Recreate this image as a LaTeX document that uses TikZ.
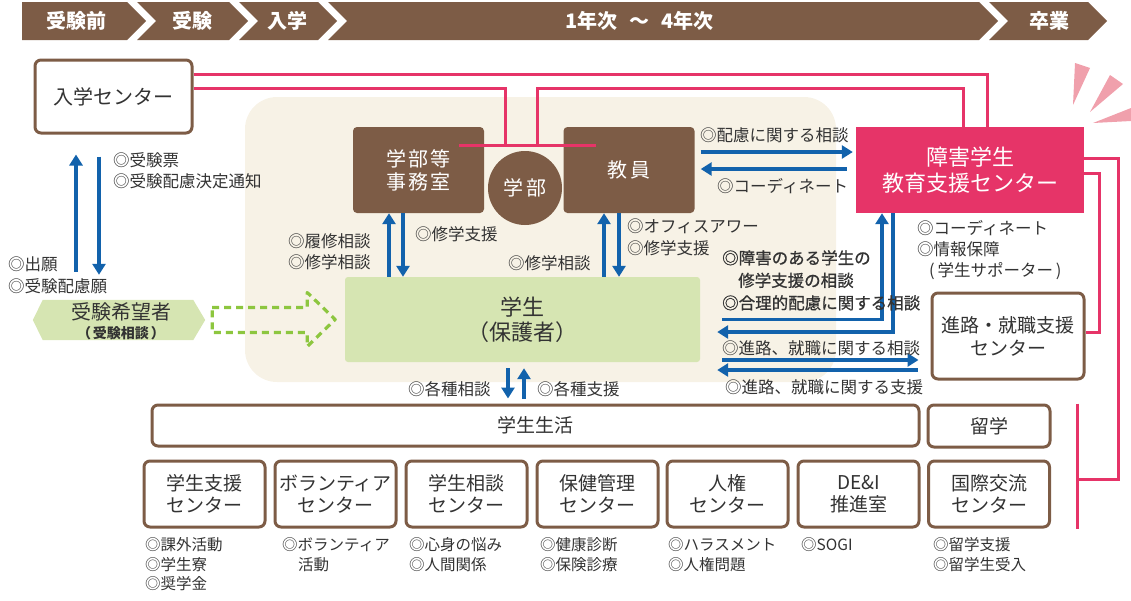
\documentclass[tikz,border=0pt]{standalone}
\usepackage{fontspec}
\setmainfont{Noto Sans CJK JP}
\newfontfamily\widefont[LetterSpace=12]{Noto Sans CJK JP}
\newfontfamily\heavyfont[FakeBold=0.8]{Noto Sans CJK JP}
\usetikzlibrary{shapes, arrows.meta, positioning, calc}

\definecolor{boxbrown}{RGB}{125, 92, 70}
\definecolor{linepink}{RGB}{230, 52, 104}
\definecolor{raypink}{RGB}{240, 160, 172}
\definecolor{arrowblue}{RGB}{18, 98, 172}
\definecolor{campusbeige}{RGB}{247, 242, 230}
\definecolor{palegreen}{RGB}{214, 229, 178}
\definecolor{dashgreen}{RGB}{141, 198, 63}
\definecolor{inkgray}{RGB}{51, 51, 51}

\tikzset{
  whitebox/.style={draw=boxbrown, line width=3pt, fill=white, rounded corners=6pt, align=center, inner sep=0pt, font=\fontsize{19}{23}\selectfont},
  brownbox/.style={fill=boxbrown, rounded corners=4pt, text=white, align=center, inner sep=0pt, minimum width=131pt, minimum height=86pt, font=\widefont\fontsize{20}{23}\selectfont},
  centerbox/.style={whitebox, minimum width=121pt, minimum height=66pt, font=\fontsize{19}{22}\selectfont},
  stagetext/.style={text=white, font=\bfseries\fontsize{20}{22}\selectfont, inner sep=0pt},
  lbl/.style={anchor=north west, align=left, inner sep=0pt, font=\fontsize{16.5}{21.5}\selectfont},
  desc/.style={anchor=north west, align=left, inner sep=0pt, font=\fontsize{15.5}{19.5}\selectfont},
  bluearrow/.style={draw=arrowblue, line width=3.2pt, -{Triangle[length=11pt, width=13pt]}},
  pinkline/.style={draw=linepink, line width=3pt},
  dasharrow/.style={draw=dashgreen, line width=3.2pt, dash pattern=on 7pt off 5pt, line join=round},
}

\begin{document}
\begin{tikzpicture}[x=1pt, y=-1pt, text=inkgray]
\useasboundingbox (0,0) rectangle (1131,600);

% stages
\fill[boxbrown] (22,2) -- (127,2) -- (146,21) -- (127,40) -- (22,40) -- cycle;
\fill[boxbrown] (137,2) -- (229,2) -- (248,21) -- (229,40) -- (137,40) -- (156,21) -- cycle;
\fill[boxbrown] (239,2) -- (318,2) -- (337,21) -- (318,40) -- (239,40) -- (258,21) -- cycle;
\fill[boxbrown] (328,2) -- (979,2) -- (998,21) -- (979,40) -- (328,40) -- (347,21) -- cycle;
\fill[boxbrown] (989,2) -- (1088,2) -- (1107,21) -- (1088,40) -- (989,40) -- (1008,21) -- cycle;
\node[stagetext] (stPre) at (76,21) {受験前};
\node[stagetext] (stExam) at (192,21) {受験};
\node[stagetext] (stEnter) at (287,21) {入学};
\node[stagetext, anchor=west] (stYears) at (565,21) {1年次\hspace{12pt}～\hspace{12pt}4年次};
\node[stagetext] (stGrad) at (1049,21) {卒業};

% rays
\fill[raypink] (1075,63) -- (1090,68) -- (1073,105) -- cycle;
\fill[raypink] (1110,75) -- (1123,84) -- (1090,112) -- cycle;
\fill[raypink] (1131,108) -- (1131,121) -- (1093,123) -- cycle;

% faculty area
\fill[campusbeige, rounded corners=32pt] (245,97) rectangle (836,382);

\node[whitebox, font=\fontsize{20}{24}\selectfont, minimum width=157pt, minimum height=73pt] (nyugaku) at (113.5,96.5) {入学センター};
\node[fill=linepink, text=white, align=center, inner sep=0pt, minimum width=228pt, minimum height=86pt, font=\fontsize{22}{26}\selectfont] (shien) at (970,170) {障害学生\\教育支援センター};
\node[whitebox, minimum width=152pt, minimum height=86pt] (shinro) at (1008,336) {進路・就職支援\\センター};
\node[whitebox, minimum width=122pt, minimum height=42pt] (ryugaku) at (989,426) {留学};
\node[centerbox] (kokusai) at (989,494) {国際交流\\センター};

% red links
\coordinate (ny1) at ([yshift=22.5pt]nyugaku.east);
\coordinate (ny2) at ([yshift=8.5pt]nyugaku.east);
\coordinate (bar1) at (505,146);
\coordinate (bar2) at (537,146);
\coordinate (brkR) at (1118,479);
\coordinate (brkL) at (1077,479);
\draw[pinkline] (ny1) -| ([xshift=17pt]shien.north);
\draw[pinkline] (ny2) -| (bar1);
\draw[pinkline] (bar2) -- (bar2 |- ny2) -| ([xshift=-7pt]shien.north);
\draw[pinkline] ([yshift=12pt]shien.east) -| (brkR) -- (brkL);
\draw[pinkline] ([yshift=-3pt]shien.east) -- ++(15,0) |- ([yshift=4pt]shinro.east);
\draw[pinkline] (brkL |- ryugaku.north) -- (brkL |- kokusai.south);

\node[brownbox] (jimu) at (418.5,170) {学部等\\事務室};
\node[circle, fill=boxbrown, text=white, minimum size=74pt, inner sep=0pt, font=\widefont\fontsize{20}{22}\selectfont] (gakubu) at (525,188) {学部};
\node[brownbox] (kyoin) at (629,170) {教員};
\draw[pinkline] ([xshift=-25pt,yshift=-19pt]jimu.north east) -- ([xshift=33pt,yshift=-19pt]kyoin.north west);

\node[fill=palegreen, rounded corners=3pt, align=center, inner sep=0pt, minimum width=355pt, minimum height=85pt, font=\fontsize{22}{25}\selectfont] (gakusei) at (522.5,319.5) {学生\\（保護者）};

% applicant
\node[minimum width=172pt, minimum height=40pt, inner sep=0pt] (kibou) at (119,320) {};
\fill[palegreen] (kibou.west) -- ([xshift=10pt]kibou.north west) -- ([xshift=-12pt]kibou.north east) -- (kibou.east) -- ([xshift=-12pt]kibou.south east) -- ([xshift=10pt]kibou.south west) -- cycle;
\node[font=\fontsize{20}{22}\selectfont, inner sep=0pt] (kibouName) at (121,312) {受験希望者};
\node[font=\bfseries\fontsize{14}{15}\selectfont, inner sep=0pt] (kibouNote) at (121,333) {（\hspace{2pt}受験相談\hspace{2pt}）};
\draw[dasharrow] ([xshift=7pt,yshift=12.5pt]kibou.east) -- ++(95,0) -- ++(0,-15) -- ++(28,27) -- ++(-28,27) -- ++(0,-14) -- ++(-95,0) -- cycle;

% student life
\node[whitebox, minimum width=767pt, minimum height=41pt] (seikatsu) at (535.5,425.5) {学生生活};
\node[centerbox] (sien) at (204.5,494) {学生支援\\センター};
\node[centerbox] (volun) at (335.5,494) {ボランティア\\センター};
\node[centerbox] (soudan) at (466.5,494) {学生相談\\センター};
\node[centerbox] (hoken) at (597.5,494) {保健管理\\センター};
\node[centerbox] (jinken) at (727.5,494) {人権\\センター};
\node[centerbox] (dei) at (858.5,494) {DE\&I\\推進室};

% blue arrows
\draw[bluearrow] ([xshift=-43pt,yshift=28pt]kibou.north) -- ([xshift=-37.5pt,yshift=-20pt]nyugaku.south);
\draw[bluearrow] ([xshift=-14.5pt,yshift=-22pt]nyugaku.south) -- ([xshift=-20pt,yshift=25pt]kibou.north);
\draw[bluearrow] ([xshift=-29.5pt]jimu.south |- gakusei.north) -- ([xshift=-29.5pt]jimu.south);
\draw[bluearrow] ([xshift=-15.5pt]jimu.south) -- ([xshift=-15.5pt]jimu.south |- gakusei.north);
\draw[bluearrow] ([xshift=-25pt]kyoin.south |- gakusei.north) -- ([xshift=-25pt]kyoin.south);
\draw[bluearrow] ([xshift=-10pt]kyoin.south) -- ([xshift=-10pt]kyoin.south |- gakusei.north);
\draw[bluearrow] ([xshift=6pt,yshift=18pt]kyoin.east) -- ([xshift=-3pt,yshift=18pt]shien.west);
\draw[bluearrow] ([xshift=-9pt,yshift=1pt]shien.west) -- ([xshift=6pt,yshift=1pt]kyoin.east);
\draw[bluearrow] ([xshift=22pt]gakusei.east) -| ([xshift=-88pt]shien.south);
\draw[bluearrow] ([xshift=-77pt]shien.south) |- ([xshift=17pt,yshift=-12.5pt]gakusei.east);
\draw[bluearrow] ([xshift=22pt,yshift=-40.5pt]gakusei.east) -- ([xshift=-12pt,yshift=-24pt]shinro.west);
\draw[bluearrow] ([xshift=-13pt,yshift=-34pt]shinro.west) -- ([xshift=17pt,yshift=-50.5pt]gakusei.east);
\draw[bluearrow] ([xshift=-14.5pt,yshift=-6pt]gakusei.south) -- ([xshift=-27.5pt,yshift=5pt]seikatsu.north);
\draw[bluearrow] ([xshift=-11.5pt,yshift=5pt]seikatsu.north) -- ([xshift=1.5pt,yshift=-6pt]gakusei.south);

% labels
\node[lbl] (lbJuken) at (113,152) {◎受験票\\◎受験配慮決定通知};
\node[lbl] (lbGanSho) at (8,257) {◎出願\\◎受験配慮願};
\node[lbl] (lbRishu) at (288,233) {◎履修相談\\◎修学相談};
\node[lbl] (lbJimuShien) at (415,226) {◎修学支援};
\node[lbl] (lbKyoinSoudan) at (508,255) {◎修学相談};
\node[lbl] (lbOffice) at (627,219) {◎オフィスアワー\\◎修学支援};
\node[lbl] (lbHairyo) at (700,127) {◎配慮に関する相談};
\node[lbl] (lbCoordA) at (717,178) {◎コーディネート};
\node[lbl, font=\fontsize{16.5}{21}\selectfont] (lbCoordB) at (917,220) {◎コーディネート\\◎情報保障\\\hspace*{12pt}(\,学生サポーター\,)};
\node[lbl, font=\heavyfont\fontsize{16.5}{22.5}\selectfont] (lbShogai) at (722,250) {◎障害のある学生の\\\hspace*{16pt}修学支援の相談\\◎合理的配慮に関する相談};
\node[lbl] (lbShinroA) at (722,340) {◎進路、就職に関する相談};
\node[lbl] (lbShinroB) at (725,379) {◎進路、就職に関する支援};
\node[lbl] (lbKakuA) at (408,381) {◎各種相談};
\node[lbl] (lbKakuB) at (537,381) {◎各種支援};

% descriptions
\node[desc] (dsSien) at (145,537.5) {◎課外活動\\◎学生寮\\◎奨学金};
\node[desc] (dsVolun) at (282,537.5) {◎ボランティア\\\hspace*{16pt}活動};
\node[desc] (dsSoudan) at (409,537.5) {◎心身の悩み\\◎人間関係};
\node[desc] (dsHoken) at (540,537.5) {◎健康診断\\◎保険診療};
\node[desc] (dsJinken) at (668,537.5) {◎ハラスメント\\◎人権問題};
\node[desc] (dsDei) at (801,537.5) {◎SOGI};
\node[desc] (dsKokusai) at (933,537.5) {◎留学支援\\◎留学生受入};
\end{tikzpicture}
\end{document}
